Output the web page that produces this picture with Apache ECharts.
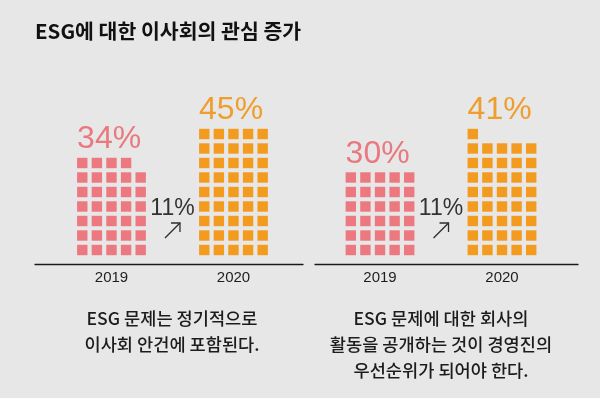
<!DOCTYPE html>
<html><head><meta charset="utf-8">
<script src="https://cdn.jsdelivr.net/npm/echarts@6/dist/echarts.min.js"></script>
<style>html,body{margin:0;padding:0;background:#e7e7e7}#c{width:600px;height:398px}</style>
</head><body><div id="c"></div>
<script>
// ---- data ----
const titleText = 'ESG에 대한 이사회의 관심 증가';
const years = [2019, 2020];
const boardAgendaValues = [34, 45];
const disclosureValues = [30, 41];
const captionLeft = 'ESG 문제는 정기적으로\n이사회 안건에 포함된다.';
const captionRight = 'ESG 문제에 대한 회사의\n활동을 공개하는 것이 경영진의\n우선순위가 되어야 한다.';
const perRow = 5; // squares per row, 1 square = 1%

// ---- styles ----
const PITCH = 14.6, SIZE = 10.4;
const COLORS = ['#ec7880', '#f29b1f'];
const LABEL_COLORS = ['#e9797f', '#ef9d2c'];
const NUM_FONT = '"Liberation Sans", Arial, sans-serif';
const KR_FONT = '"Noto Sans CJK KR", sans-serif';

function squares(values) {
  const out = [];
  values.forEach((v, i) => {
    for (let k = 0; k < v; k++) out.push([years[i], Math.floor(k / perRow), k % perRow, i]);
  });
  return out;
}
function tops(values) { return values.map((v, i) => [years[i], Math.ceil(v / perRow) - 1, v, i]); }
function change(values) { return [[(years[0] + years[1]) / 2, 0, values[1] - values[0]]]; }

function renderSquare(params, api) {
  const p = api.coord([api.value(0), api.value(1)]);
  const i = api.value(3);
  return { type: 'rect',
    shape: { x: p[0] + (api.value(2) - (perRow - 1) / 2) * PITCH - SIZE / 2, y: p[1] - SIZE / 2, width: SIZE, height: SIZE },
    style: { fill: COLORS[i] } };
}
function renderPct(params, api) {
  const p = api.coord([api.value(0), api.value(1)]);
  const i = api.value(3);
  return { type: 'text',
    x: p[0] - (perRow - 1) / 2 * PITCH - SIZE / 2, y: p[1] - SIZE / 2 - 18.5,
    style: { text: api.value(2) + '%', fill: LABEL_COLORS[i], fontSize: 32, fontFamily: NUM_FONT, align: 'left', verticalAlign: 'middle' } };
}
function renderChange(params, api) {
  const p = api.coord([api.value(0), api.value(1)]);
  const cx = p[0], by = p[1];
  const ls = { stroke: '#2e2e2e', lineWidth: 1.3, fill: null };
  return { type: 'group', children: [
    { type: 'text', x: cx, y: by - 41.7,
      style: { text: api.value(2) + '%', fill: '#333', fontSize: 23, fontFamily: NUM_FONT, align: 'center', verticalAlign: 'middle' } },
    { type: 'polyline', shape: { points: [[cx - 7.5, by - 12], [cx + 7.5, by - 27]] }, style: ls },
    { type: 'polyline', shape: { points: [[cx - 1.5, by - 27], [cx + 7.5, by - 27], [cx + 7.5, by - 18]] }, style: ls }
  ]};
}

function panelSeries(values, idx) {
  const base = { type: 'custom', xAxisIndex: idx, yAxisIndex: idx, clip: false, silent: true, encode: { x: 0, y: 1 } };
  return [
    Object.assign({}, base, { renderItem: renderSquare, data: squares(values) }),
    Object.assign({}, base, { renderItem: renderPct, data: tops(values) }),
    Object.assign({}, base, { renderItem: renderChange, data: change(values) })
  ];
}

function xAxis(idx, min, max) {
  return { type: 'value', gridIndex: idx, min: min, max: max,
    axisLine: { show: true, onZero: false, lineStyle: { color: '#1a1a1a', width: 1.3 } },
    axisTick: { show: false }, splitLine: { show: false },
    axisLabel: { customValues: years, formatter: v => String(v), margin: 6, fontSize: 15, color: '#1e1e1e', fontFamily: NUM_FONT } };
}
function yAxis(idx) {
  return { type: 'value', gridIndex: idx, min: -1, max: 10, show: false };
}

const capStyle = { fontFamily: KR_FONT, fontWeight: 500, fontSize: 17.6, lineHeight: 26.3, color: '#1c1c1c', align: 'center' };
const chart = echarts.init(document.getElementById('c'));
chart.setOption({
  backgroundColor: '#e7e7e7',
  animation: false,
  title: [
    { text: titleText, left: 35, top: 20, padding: 0, textStyle: { fontFamily: KR_FONT, fontWeight: 'bold', fontSize: 20.5, color: '#111', lineHeight: 22 } },
    { text: captionLeft, left: 172, top: 305, padding: 0, textAlign: 'center', textStyle: capStyle },
    { text: captionRight, left: 441, top: 305, padding: 0, textAlign: 'center', textStyle: capStyle }
  ],
  grid: [
    { left: 35, width: 268, top: 105, height: 159.5 },
    { left: 315, width: 263, top: 105, height: 159.5 }
  ],
  xAxis: [ xAxis(0, 2018.373, 2020.570), xAxis(1, 2018.467, 2020.623) ],
  yAxis: [ yAxis(0), yAxis(1) ],
  series: [].concat(panelSeries(boardAgendaValues, 0), panelSeries(disclosureValues, 1))
});
</script></body></html>
